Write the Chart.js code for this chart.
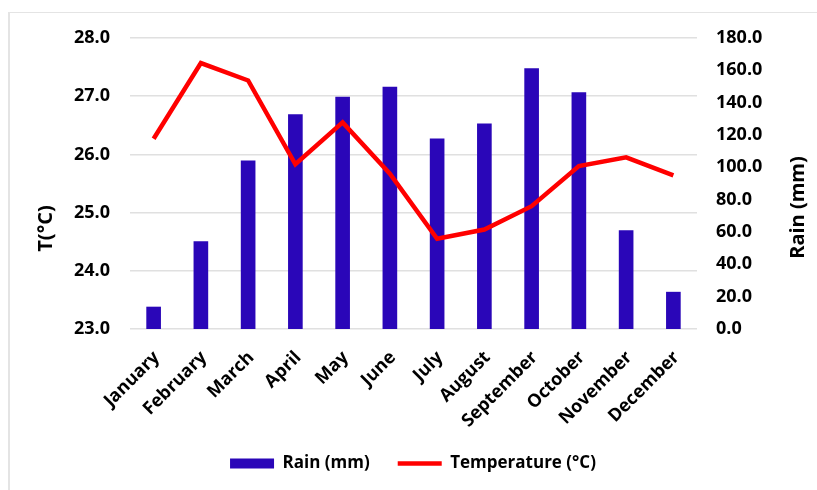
<!DOCTYPE html>
<html>
<head>
<meta charset="utf-8">
<script src="https://cdn.jsdelivr.net/npm/chart.js@4"></script>
<style>
  html, body { margin: 0; padding: 0; background: #fff; }
  #wrap { position: relative; width: 817px; height: 490px; }
  #frame { position: absolute; left: 8px; top: 12px; right: 0; bottom: 0;
           border-left: 2px solid #e4e4e4; border-top: 1px solid #e4e4e4; }
  #chart { position: absolute; left: 0; top: 0; }
</style>
</head>
<body>
<div id="wrap">
  <div id="frame"></div>
  <canvas id="chart" width="817" height="490"></canvas>
</div>
<script>
// monthly climate data
var months = ['January', 'February', 'March', 'April', 'May', 'June',
              'July', 'August', 'September', 'October', 'November', 'December'];
var rain = [13.8, 54.3, 104.3, 132.9, 143.6, 149.8, 117.9, 127.1, 161.3, 146.5, 61.1, 23.0];
var temperature = [26.27, 27.57, 27.27, 25.83, 26.55, 25.67, 24.55, 24.71, 25.11, 25.80, 25.95, 25.64];

var tempTicks = [23, 24, 25, 26, 27, 28];
var rainTicks = [0, 20, 40, 60, 80, 100, 120, 140, 160, 180];

var barColor = '#2a06b8';
var lineColor = '#ff0000';
var fontFamily = "'Open Sans', 'Noto Sans', sans-serif";

Chart.defaults.font.family = fontFamily;
Chart.defaults.color = '#000';

// axis titles drawn by hand: the right one reads bottom-to-top like the left one
var axisTitles = {
    id: 'axisTitles',
    afterDraw: function (chart) {
        var c = chart.ctx;
        var a = chart.chartArea;
        var mid = (a.top + a.bottom) / 2;
        c.save();
        c.fillStyle = '#000';
        c.font = 'bold 20px ' + fontFamily;
        c.textAlign = 'center';
        c.textBaseline = 'middle';

        c.save();
        c.translate(a.left - 84, mid + 45);
        c.rotate(-Math.PI / 2);
        c.fillText('T(°C)', 0, 0);
        c.restore();

        c.save();
        c.translate(a.right + 101, mid + 24);
        c.rotate(-Math.PI / 2);
        c.fillText('Rain (mm)', 0, 0);
        c.restore();

        c.restore();
    }
};

var ctx = document.getElementById('chart').getContext('2d');

var chart = new Chart(ctx, {
    type: 'bar',
    data: {
        labels: months,
        datasets: [
            {
                type: 'line',
                label: 'Temperature (°C)',
                data: temperature,
                yAxisID: 'y',
                borderColor: lineColor,
                backgroundColor: lineColor,
                borderWidth: 4.5,
                pointRadius: 0,
                pointStyle: 'line',
                tension: 0,
                order: 0
            },
            {
                type: 'bar',
                label: 'Rain (mm)',
                data: rain,
                yAxisID: 'y1',
                backgroundColor: barColor,
                borderWidth: 0,
                pointStyle: 'rect',
                categoryPercentage: 1.0,
                barPercentage: 0.31,
                order: 1
            }
        ]
    },
    plugins: [axisTitles],
    options: {
        responsive: false,
        animation: false,
        layout: {
            padding: { top: 38, left: 34, right: 25, bottom: 8 }
        },
        plugins: {
            tooltip: { enabled: false },
            legend: {
                position: 'bottom',
                reverse: true,
                labels: {
                    usePointStyle: true,
                    pointStyleWidth: 44,
                    boxHeight: 10,
                    padding: 28,
                    font: { size: 17, weight: 'bold' },
                    color: '#000'
                }
            }
        },
        scales: {
            x: {
                grid: { display: false },
                border: { display: false },
                ticks: {
                    minRotation: 45,
                    maxRotation: 45,
                    padding: 10,
                    labelOffset: 3,
                    font: { size: 18, weight: 'bold' }
                },
                afterFit: function (axis) { axis.height = 98; }
            },
            y: {
                position: 'left',
                min: 23,
                max: 28,
                afterBuildTicks: function (axis) {
                    axis.ticks = tempTicks.map(function (v) { return { value: v }; });
                },
                grid: { color: '#e0e0e0', lineWidth: 1.5, drawTicks: false },
                border: { display: false },
                ticks: {
                    padding: 20,
                    font: { size: 18, weight: 'bold' },
                    callback: function (v) { return v.toFixed(1); }
                },
                afterFit: function (axis) { axis.width = 96; }
            },
            y1: {
                position: 'right',
                min: 0,
                max: 180,
                afterBuildTicks: function (axis) {
                    axis.ticks = rainTicks.map(function (v) { return { value: v }; });
                },
                grid: { display: false, drawTicks: false },
                border: { display: false },
                ticks: {
                    padding: 19,
                    font: { size: 18, weight: 'bold' },
                    callback: function (v) { return v.toFixed(1); }
                },
                afterFit: function (axis) { axis.width = 95; }
            }
        }
    }
});
</script>
</body>
</html>
